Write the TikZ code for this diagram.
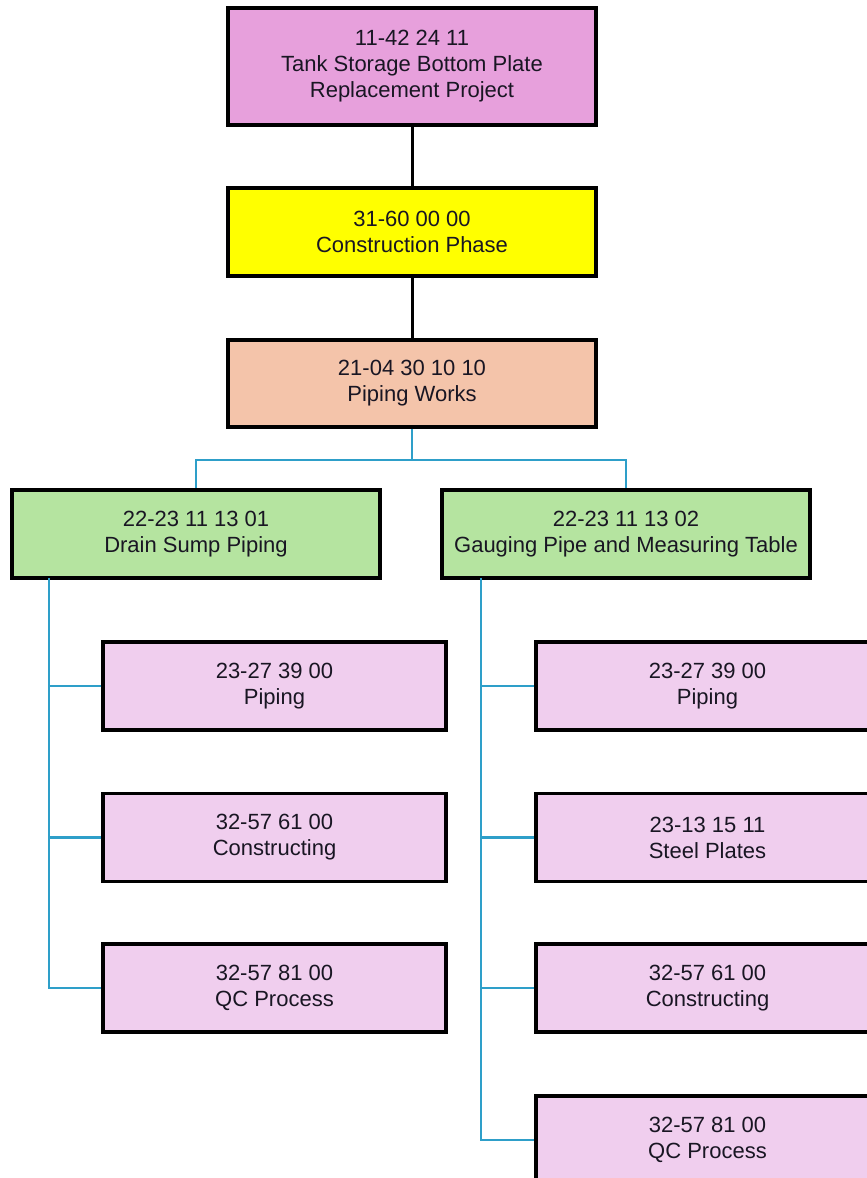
\documentclass[tikz,border=0pt]{standalone}
\usepackage{fontspec}
\setmainfont{Liberation Sans}
\definecolor{toppink}{RGB}{231,160,220}
\definecolor{phaseyellow}{RGB}{255,255,0}
\definecolor{peach}{RGB}{244,196,170}
\definecolor{leafgreen}{RGB}{181,228,160}
\definecolor{lightpink}{RGB}{240,206,238}
\definecolor{linkblue}{RGB}{46,159,201}
\definecolor{textdark}{RGB}{25,22,35}
\begin{document}
\begin{tikzpicture}[x=1pt,y=-1pt,
  box/.style={draw=black, line width=3.4pt, align=center, inner sep=0pt,
    text=textdark, font=\fontsize{22}{26}\selectfont},
  wide/.style={box, minimum width=368pt, minimum height=88pt},
  leaf/.style={box, fill=lightpink, minimum width=343pt, minimum height=88pt},
  blackline/.style={draw=black, line width=3pt},
  blueline/.style={draw=linkblue, line width=2.8pt}]
\useasboundingbox (0,0) rectangle (867,1178);
\clip (0,0) rectangle (867,1178);

% connectors, drawn first so the boxes sit on top of them
\coordinate (fork) at (412,460);
\coordinate (dspine) at (49,578);
\coordinate (gspine) at (481,578);

% upper chain
\node[wide, fill=toppink, minimum height=117pt] (top) at (412,66.5)
  {11-42 24 11\\Tank Storage Bottom Plate\\Replacement Project};
\node[wide, fill=phaseyellow] (phase) at (412,232)
  {31-60 00 00\\Construction Phase};
\node[wide, fill=peach, minimum height=87pt] (piping) at (412,383.5)
  {21-04 30 10 10\\Piping Works};

% second level
\node[wide, fill=leafgreen] (drain) at (196,534)
  {22-23 11 13 01\\Drain Sump Piping};
\node[wide, fill=leafgreen] (gauge) at (626,534)
  {22-23 11 13 02\\Gauging Pipe and Measuring Table};

% leaves under Drain Sump Piping
\node[leaf] (d1) at (274.5,686)   {23-27 39 00\\Piping};
\node[leaf] (d2) at (274.5,837.5) {32-57 61 00\\Constructing};
\node[leaf] (d3) at (274.5,988)   {32-57 81 00\\QC Process};

% leaves under Gauging Pipe and Measuring Table
\node[leaf] (g1) at (707.5,686)   {23-27 39 00\\Piping};
\node[leaf] (g2) at (707.5,837.5) {23-13 15 11\\Steel Plates};
\node[leaf] (g3) at (707.5,988)   {32-57 61 00\\Constructing};
\node[leaf] (g4) at (707.5,1140)  {32-57 81 00\\QC Process};

% connectors
\draw[blackline] (top) -- (phase);
\draw[blackline] (phase) -- (piping);

\draw[blueline] (piping.south) -- (fork);
\draw[blueline] (fork) -| (drain.north);
\draw[blueline] (fork) -| (gauge.north);

\draw[blueline] (dspine) |- (d3.west);
\draw[blueline] (d1.west) -- (d1.west -| dspine);
\draw[blueline] (d2.west) -- (d2.west -| dspine);

\draw[blueline] (gspine) |- (g4.west);
\draw[blueline] (g1.west) -- (g1.west -| gspine);
\draw[blueline] (g2.west) -- (g2.west -| gspine);
\draw[blueline] (g3.west) -- (g3.west -| gspine);
\end{tikzpicture}
\end{document}
